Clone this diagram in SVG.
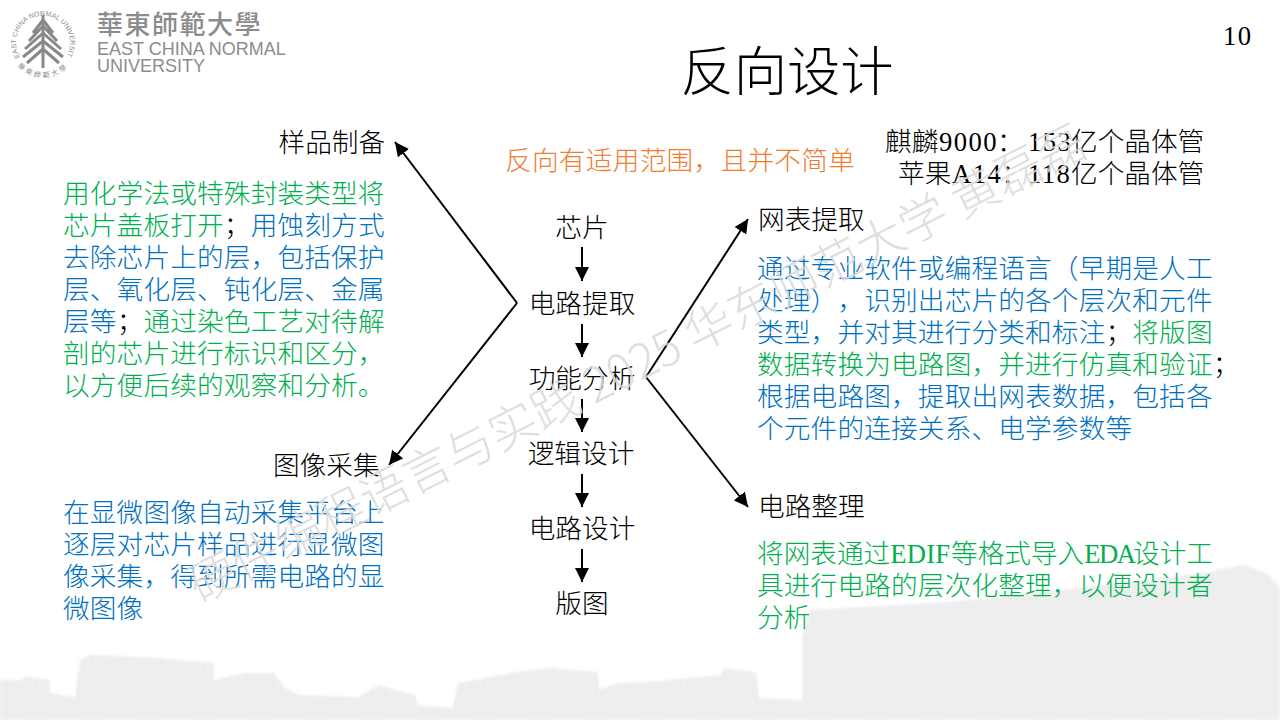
<svg xmlns="http://www.w3.org/2000/svg" width="1280" height="720" viewBox="0 0 1280 720">
<defs>
<marker id="a" markerUnits="userSpaceOnUse" markerWidth="14" markerHeight="14" refX="14" refY="7" orient="auto"><path d="M0 0L14 7L0 14Z" fill="#000"/></marker>
<filter id="b"><feGaussianBlur stdDeviation="1"/></filter>
<pattern id="w" width="7" height="5" patternUnits="userSpaceOnUse"><rect width="7" height="5" fill="#f0f0f0"/><rect width="2" height="5" fill="#ebebeb"/><rect y="3" width="7" height="1" fill="#ececec"/></pattern>
<path id="ringTop" d="M20 57A27 27 0 1 1 66 57"/>
<path id="ringBot" d="M14 62A35 35 0 0 0 72 62"/>
</defs>
<style>
text{font-family:"Noto Sans CJK SC","Liberation Serif",sans-serif;font-size:26.67px;font-weight:300;text-spacing-trim:space-all;font-feature-settings:"chws" 0,"palt" 0}
.k{fill:#000}.g{fill:#00b050}.b{fill:#0070c0}.o{fill:#ed7d31}
.c{text-anchor:middle}.r{text-anchor:end}
.s{font-family:"Liberation Serif","Noto Sans CJK SC",serif;letter-spacing:1.4px}
.l{fill:none;stroke:#000;stroke-width:2}
.t{fill:none;stroke:#888;stroke-width:3}
.lg{fill:#8c8c8c}
.ls{font-family:"Liberation Sans",sans-serif;font-size:18px;font-weight:400}
.body{letter-spacing:.15px}
</style>
<rect width="1280" height="720" fill="#fff"/>
<g id="background" filter="url(#b)">
<path fill="url(#w)" d="M0 720V680H22L25 676L50 680V693L75 697L80 660L90 655L144 657L214 663V680L244 673H274L284 687L299 695L358 697L378 685L415 695L418 705L453 708L458 683L517 672L552 668L597 672L600 690L617 683L647 682L721 675L724 668L756 672L759 698L802 700V637L810 610L897 605L947 602L1000 597L1100 585L1170 577L1207 572L1243 565L1267 573L1280 587V720Z"/>
</g>
<g id="logo">
<path class="t" d="M43 15V68"/>
<path class="t" d="M43 20L33 33M43 20L53 33M43 26L29 41M43 26L57 41M43 33L25 49M43 33L61 49M43 41L23 57M43 41L63 57M43 49L27 63M43 49L59 63"/>
<text class="lg" style="font-family:'Liberation Sans',sans-serif;font-size:7px;font-weight:400"><textPath href="#ringTop">EAST CHINA NORMAL UNIVERSITY</textPath></text>
<text class="lg" text-anchor="middle" style="font-size:7px;letter-spacing:2.5px;font-weight:400"><textPath href="#ringBot" startOffset="50%">華東師範大學</textPath></text>
<text class="lg" x="97" y="34" style="font-family:'Noto Sans CJK TC',sans-serif;font-size:26px;letter-spacing:1.5px;font-weight:500">華東師範大學</text>
<text class="lg ls" x="97" y="55">EAST CHINA NORMAL</text>
<text class="lg ls" x="97" y="72">UNIVERSITY</text>
</g>
<text id="page" class="s" x="1223" y="45" fill="#000">10</text>
<text id="title" class="c" x="787" y="91" style="font-size:53.3px" fill="#000">反向设计</text>
<text id="note" class="o" x="505" y="170" style="letter-spacing:.28px">反向有适用范围，且并不简单</text>
<g id="stats" fill="#000"><text x="885" y="151">麒麟<tspan class="s" x="939">9000</tspan><tspan x="997">：</tspan><tspan class="s" x="1028">153</tspan><tspan x="1071">亿个晶体管</tspan></text>
<text x="898" y="183">苹果<tspan class="s" x="952">A14</tspan><tspan x="1001">：</tspan><tspan class="s" x="1028">118</tspan><tspan x="1071">亿个晶体管</tspan></text></g>
<g id="connectors">
<path class="l" d="M582 247V281" marker-end="url(#a)"/>
<path class="l" d="M582 324V357" marker-end="url(#a)"/>
<path class="l" d="M582 399V432" marker-end="url(#a)"/>
<path class="l" d="M582 474V507" marker-end="url(#a)"/>
<path class="l" d="M582 549V582" marker-end="url(#a)"/>
<path class="l" d="M517 303L395 142" marker-end="url(#a)"/>
<path class="l" d="M517 303L389 465" marker-end="url(#a)"/>
<path class="l" d="M646 377L748 219" marker-end="url(#a)"/>
<path class="l" d="M646 377L748 507" marker-end="url(#a)"/>
</g>
<g id="n1"><text class="c k" x="582" y="237">芯片</text></g>
<g id="n2"><text class="c k" x="582" y="313">电路提取</text></g>
<g id="n3"><text class="c k" x="582" y="388">功能分析</text></g>
<g id="n4"><text class="c k" x="581" y="463">逻辑设计</text></g>
<g id="n5"><text class="c k" x="582" y="538">电路设计</text></g>
<g id="n6"><text class="c k" x="582" y="613">版图</text></g>
<g id="sample"><text class="k" x="278.500" y="152">样品制备</text>
<text class="body" x="63" y="203"><tspan class="g">用化学法或特殊封装类型将</tspan><tspan class="g" x="63" y="235">芯片盖板打开</tspan><tspan class="k">；</tspan><tspan class="b">用蚀刻方式</tspan><tspan class="b" x="63" y="267">去除芯片上的层，包括保护</tspan><tspan class="b" x="63" y="299">层、氧化层、钝化层、金属</tspan><tspan class="b" x="63" y="331">层等</tspan><tspan class="k">；</tspan><tspan class="g">通过染色工艺对待解</tspan><tspan class="g" x="63" y="363">剖的芯片进行标识和区分，</tspan><tspan class="g" x="63" y="395">以方便后续的观察和分析。</tspan></text></g>
<g id="image"><text class="k" x="273" y="475">图像采集</text>
<text class="b body" x="63" y="522"><tspan x="63" y="522">在显微图像自动采集平台上</tspan><tspan x="63" y="554">逐层对芯片样品进行显微图</tspan><tspan x="63" y="586">像采集，得到所需电路的显</tspan><tspan x="63" y="618">微图像</tspan></text></g>
<g id="netlist"><text class="k" x="758" y="229">网表提取</text>
<text class="body" x="757" y="278"><tspan class="b">通过专业软件或编程语言（早期是人工</tspan><tspan class="b" x="757" y="310">处理），识别出芯片的各个层次和元件</tspan><tspan class="b" x="757" y="342">类型，并对其进行分类和标注</tspan><tspan class="k">；</tspan><tspan class="g">将版图</tspan><tspan class="g" x="757" y="374">数据转换为电路图，并进行仿真和验证</tspan><tspan class="k">；</tspan><tspan class="b" x="757" y="406">根据电路图，提取出网表数据，包括各</tspan><tspan class="b" x="757" y="438">个元件的连接关系、电学参数等</tspan></text></g>
<g id="circuit"><text class="k" x="758" y="516">电路整理</text>
<text class="g" x="757" y="563"><tspan x="757" y="563">将网表通过<tspan class="s" style="letter-spacing:.2px">EDIF</tspan><tspan x="951">等格式导入</tspan><tspan class="s" style="letter-spacing:-1.5px">EDA</tspan><tspan x="1133">设计工</tspan></tspan><tspan class="body" x="757" y="595">具进行电路的层次化整理，以便设计者</tspan><tspan x="757" y="627">分析</tspan></text></g>
<g id="watermark"><text x="0" y="0" transform="translate(199 604) rotate(-26.8)" style="font-size:48px" fill="#d9d9d9" fill-opacity=".85">硬件编程语言与实践 2025 华东师范大学 黄磊磊</text></g>
</svg>
